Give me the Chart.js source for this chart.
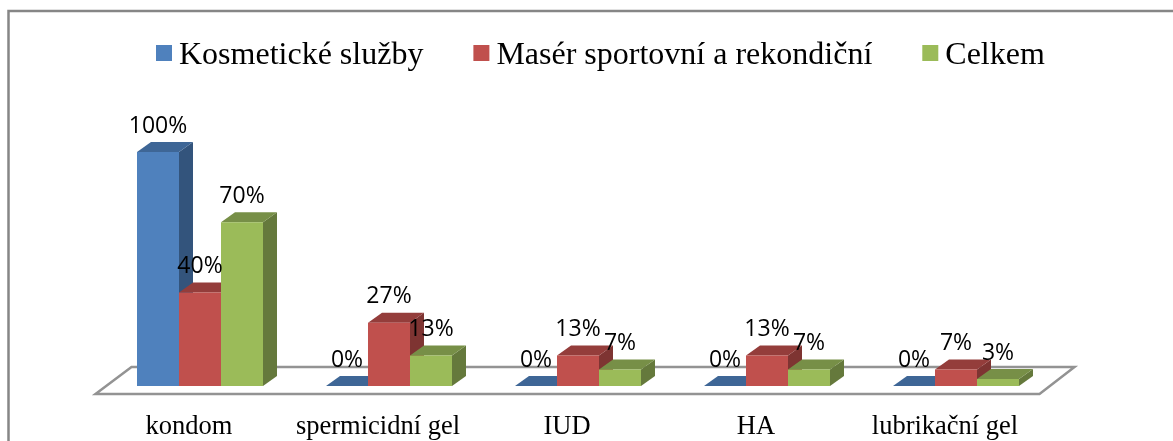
<!DOCTYPE html>
<html>
<head>
<meta charset="utf-8">
<script src="https://cdn.jsdelivr.net/npm/chart.js@4"></script>
<style>
  html, body { margin: 0; padding: 0; background: #fff; overflow: hidden; }
  #wrap { position: relative; width: 1173px; height: 441px; }
</style>
</head>
<body>
<div id="wrap"><canvas id="contraChart" width="1173" height="441"></canvas></div>
<script>
const categories = ['kondom', 'spermicidní gel', 'IUD', 'HA', 'lubrikační gel']
const seriesNames = ['Kosmetické služby', 'Masér sportovní a rekondiční', 'Celkem']
const kosmetickeValues = [100, 0, 0, 0, 0]
const maserValues = [40, 27, 13, 13, 7]
const celkemValues = [70, 13, 7, 7, 3]

// front, top and side face of each series
const frontColors = ['#4f81bd', '#c0504d', '#9bbb59']
const topColors = ['#3e6696', '#943d3b', '#778f47']
const sideColors = ['#33547c', '#7e3432', '#65793c']

const DEPTH_X = 14
const DEPTH_Y = 10
const SERIF = '"Liberation Serif", serif'

function fillFace(ctx, color, pts) {
  ctx.fillStyle = color
  ctx.beginPath()
  pts.forEach((p, i) => (i ? ctx.lineTo(p[0], p[1]) : ctx.moveTo(p[0], p[1])))
  ctx.closePath()
  ctx.fill()
}

const bars3d = {
  id: 'bars3d',
  beforeDraw(chart) {
    // frame: only the top and left edges show in the original crop
    const { ctx } = chart
    ctx.save()
    ctx.strokeStyle = '#868686'
    ctx.lineWidth = 2.5
    ctx.beginPath()
    ctx.moveTo(8.5, chart.height)
    ctx.lineTo(8.5, 11)
    ctx.lineTo(chart.width, 11)
    ctx.stroke()
    ctx.restore()
  },
  beforeDatasetsDraw(chart) {
    const { ctx, chartArea: a } = chart
    // floor of the 3D box
    ctx.save()
    ctx.strokeStyle = '#939393'
    ctx.lineWidth = 2.5
    ctx.beginPath()
    ctx.moveTo(a.left - 10, a.bottom + 8)
    ctx.lineTo(a.right - 11, a.bottom + 8)
    ctx.lineTo(a.right + 24, a.bottom - 19)
    ctx.lineTo(a.left + 26, a.bottom - 19)
    ctx.closePath()
    ctx.stroke()
    // first series at the back, so each bar covers the side of the one before
    chart.data.datasets.forEach((ds, s) => {
      chart.getDatasetMeta(s).data.forEach((bar) => {
        const l = bar.x - bar.width / 2
        const r = bar.x + bar.width / 2
        const t = bar.y
        const b = bar.base
        fillFace(ctx, sideColors[s], [[r, t], [r + DEPTH_X, t - DEPTH_Y], [r + DEPTH_X, b - DEPTH_Y], [r, b]])
        fillFace(ctx, topColors[s], [[l, t], [l + DEPTH_X, t - DEPTH_Y], [r + DEPTH_X, t - DEPTH_Y], [r, t]])
        bar.draw(ctx)
      })
    })
    ctx.restore()
  },
  beforeDatasetDraw() {
    return false
  },
  afterDatasetsDraw(chart) {
    const { ctx } = chart
    ctx.save()
    ctx.fillStyle = '#000'
    ctx.font = '23px "Open Sans", sans-serif'
    ctx.textAlign = 'center'
    ctx.textBaseline = 'middle'
    chart.data.datasets.forEach((ds, s) => {
      chart.getDatasetMeta(s).data.forEach((bar, i) => {
        ctx.fillText(ds.data[i] + '%', bar.x, bar.y - 26)
      })
    })
    ctx.restore()
  },
  afterDraw(chart) {
    // legend row, same spacing as the original
    const { ctx } = chart
    let x = 156
    ctx.save()
    ctx.font = '32px ' + SERIF
    ctx.textBaseline = 'alphabetic'
    chart.data.datasets.forEach((ds) => {
      ctx.fillStyle = ds.backgroundColor
      ctx.fillRect(x, 45, 16, 16)
      ctx.fillStyle = '#000'
      ctx.fillText(ds.label, x + 23, 64)
      x += 23 + ctx.measureText(ds.label).width + 50
    })
    ctx.restore()
  },
}

const makeSeries = (s, data) => ({
  label: seriesNames[s],
  data,
  backgroundColor: frontColors[s],
  barPercentage: 1,
  categoryPercentage: 0.6667,
})

new Chart(document.getElementById('contraChart'), {
  type: 'bar',
  data: {
    labels: categories,
    datasets: [
      makeSeries(0, kosmetickeValues),
      makeSeries(1, maserValues),
      makeSeries(2, celkemValues),
    ],
  },
  plugins: [bars3d],
  options: {
    responsive: false,
    animation: false,
    layout: {
      padding: { left: 105.5, right: 122.5, top: 152, bottom: 0 },
    },
    plugins: {
      legend: { display: false },
      tooltip: { enabled: false },
    },
    scales: {
      x: {
        afterFit(scale) {
          scale.height = 55
        },
        grid: { display: false, drawTicks: false },
        border: { display: false },
        ticks: {
          color: '#000',
          font: { family: SERIF, size: 26.5 },
          padding: 25,
          labelOffset: -11,
          autoSkip: false,
          maxRotation: 0,
        },
      },
      y: {
        display: false,
        min: 0,
        max: 100,
      },
    },
  },
})
</script>
</body>
</html>
